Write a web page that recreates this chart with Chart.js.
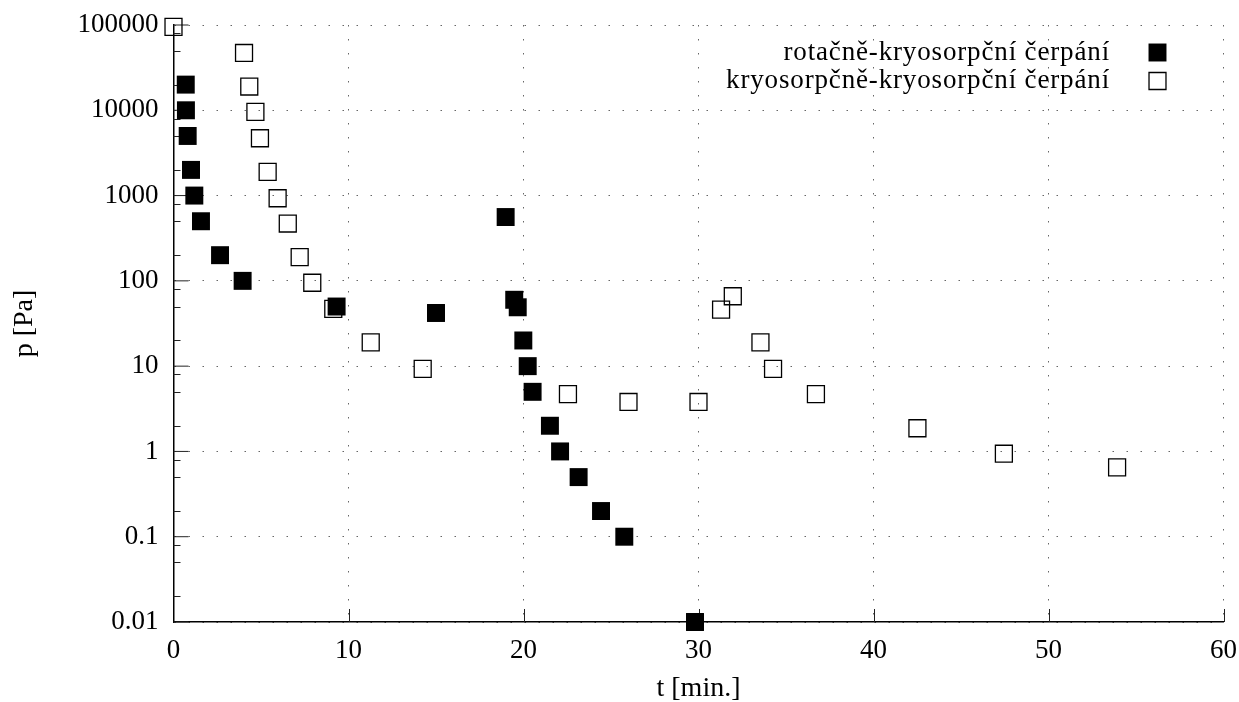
<!DOCTYPE html>
<html lang="cs">
<head>
<meta charset="UTF-8">
<title>p(t)</title>
<style>
  body { margin: 0; background: #fff; }
  #wrap { width: 1239px; height: 702px; position: relative; }
</style>
</head>
<body>
<div id="wrap"><canvas id="chart"></canvas></div>
<script src="https://cdn.jsdelivr.net/npm/chart.js"></script>
<script>
// data
const seriesLabels = ['rotačně-kryosorpční čerpání', 'kryosorpčně-kryosorpční čerpání'];

const rotT = [0.70, 0.71, 0.81, 1.0, 1.19, 1.57, 2.66, 3.95, 9.32, 15.0, 18.98, 19.47, 19.67,
              19.99, 20.24, 20.52, 21.51, 22.09, 23.15, 24.43, 25.76, 29.8];
const rotP = [20000, 10000, 5000, 2000, 1000, 500, 200, 100, 50, 42, 560, 60, 49,
              20, 10, 5, 2, 1, 0.5, 0.2, 0.1, 0.01];

const kryoT = [0.0, 4.03, 4.33, 4.68, 4.94, 5.38, 5.95, 6.53, 7.21, 7.93, 9.13, 11.27, 14.24,
               22.54, 26.0, 30.0, 31.29, 31.96, 33.54, 34.26, 36.71, 42.51, 47.45, 53.92];
const kryoP = [95000, 47000, 19000, 9600, 4700, 1900, 930, 470, 190, 95, 47, 19, 9.3,
               4.7, 3.8, 3.8, 46, 66, 19, 9.3, 4.7, 1.87, 0.94, 0.65];

const xTicks = [0, 10, 20, 30, 40, 50, 60];
const yTicks = [0.01, 0.1, 1, 10, 100, 1000, 10000, 100000];
const yMinorFactors = [2, 5, 8];

const serif = '"Liberation Serif", "DejaVu Serif", serif';

// small inward tick marks like gnuplot
const tickMarks = {
  id: 'tickMarks',
  beforeDatasetsDraw(chart) {
    const {ctx, chartArea} = chart;
    const xs = chart.scales.x, ys = chart.scales.y;
    ctx.save();
    ctx.strokeStyle = '#222';
    ctx.lineWidth = 1;
    ctx.beginPath();
    yTicks.forEach(d => {
      const py = ys.getPixelForValue(d);
      ctx.moveTo(chartArea.left, py);
      ctx.lineTo(chartArea.left + 15, py);
      yMinorFactors.forEach(f => {
        const v = d * f;
        if (v > ys.max) return;
        const pm = Math.round(ys.getPixelForValue(v)) + 0.5;
        ctx.moveTo(chartArea.left, pm);
        ctx.lineTo(chartArea.left + 7, pm);
      });
    });
    xTicks.slice(1).forEach(v => {
      const px = Math.round(xs.getPixelForValue(v)) + 0.5;
      ctx.moveTo(px, chartArea.bottom);
      ctx.lineTo(px, chartArea.bottom - 13);
    });
    ctx.stroke();
    ctx.restore();
  }
};

// key in the top right corner, text left of the marker
const sideLegend = {
  id: 'sideLegend',
  afterDraw(chart) {
    const {ctx, chartArea} = chart;
    ctx.save();
    ctx.font = '27px ' + serif;
    ctx.letterSpacing = '0.85px';
    ctx.textAlign = 'right';
    ctx.textBaseline = 'middle';
    chart.data.datasets.forEach((ds, i) => {
      const y = chartArea.top + 27.5 + i * 28.5;
      ctx.fillStyle = '#000';
      ctx.fillText(ds.label, chartArea.right - 113.5, y);
      ctx.fillStyle = ds.backgroundColor;
      ctx.strokeStyle = ds.borderColor;
      ctx.lineWidth = ds.borderWidth;
      Chart.helpers.drawPoint(ctx, {pointStyle: 'rect', radius: ds.pointRadius, borderWidth: ds.borderWidth},
        chartArea.right - 66, y);
    });
    ctx.restore();
  }
};

const ctx = document.getElementById('chart').getContext('2d');
new Chart(ctx, {
  type: 'scatter',
  data: {
    datasets: [
      {
        label: seriesLabels[0],
        data: rotT.map((t, i) => ({x: t, y: rotP[i]})),
        pointStyle: 'rect',
        pointRadius: 12.7,
        pointHoverRadius: 12.7,
        backgroundColor: '#000',
        borderColor: '#000',
        borderWidth: 0,
        clip: false
      },
      {
        label: seriesLabels[1],
        data: kryoT.map((t, i) => ({x: t, y: kryoP[i]})),
        pointStyle: 'rect',
        pointRadius: 12,
        pointHoverRadius: 12,
        backgroundColor: 'rgba(0,0,0,0)',
        borderColor: '#000',
        borderWidth: 1.3,
        clip: false
      }
    ]
  },
  options: {
    responsive: true,
    maintainAspectRatio: false,
    animation: false,
    events: [],
    layout: { padding: { top: 25, right: 15.5, left: 0, bottom: 0 } },
    plugins: {
      legend: { display: false },
      tooltip: { enabled: false }
    },
    scales: {
      x: {
        type: 'linear',
        min: 0,
        max: 60,
        afterBuildTicks: s => { s.ticks = xTicks.map(v => ({value: v})); },
        afterFit: s => { s.height = 80; s.paddingLeft = 0; s.paddingRight = 0; },
        ticks: { font: {family: serif, size: 27}, color: '#000', padding: 13, maxRotation: 0, autoSkip: false },
        grid: { color: '#666', lineWidth: 1, drawTicks: false },
        border: { display: true, color: '#000', width: 1.5, dash: [1.5, 12.5] },
        title: { display: true, text: 't [min.]', color: '#000',
                 font: {family: serif, size: 28, lineHeight: 1}, padding: {top: 0, bottom: -1} }
      },
      y: {
        type: 'logarithmic',
        min: 0.01,
        max: 100000,
        afterBuildTicks: s => { s.ticks = yTicks.map(v => ({value: v, major: true})); },
        afterFit: s => { s.width = 173.5; s.paddingTop = 0; s.paddingBottom = 0; },
        ticks: { font: {family: serif, size: 27}, color: '#000', padding: 15, autoSkip: false,
                 callback: v => String(v) },
        grid: { color: '#666', lineWidth: 1, drawTicks: false },
        border: { display: true, color: '#000', width: 1.5, dash: [1.5, 12.5] },
        title: { display: true, text: 'p [Pa]', color: '#000',
                 font: {family: serif, size: 28, lineHeight: 1}, padding: {top: 11, bottom: 0} }
      }
    }
  },
  plugins: [tickMarks, sideLegend]
});
</script>
</body>
</html>
